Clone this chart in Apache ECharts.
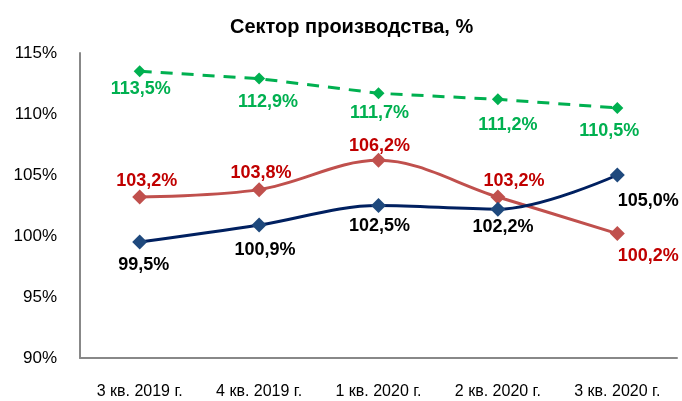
<!DOCTYPE html>
<html>
<head>
<meta charset="utf-8">
<script src="https://cdn.jsdelivr.net/npm/echarts@6/dist/echarts.min.js"></script>
<style>
  html, body { margin: 0; padding: 0; background: #fff; }
  #chart { width: 682px; height: 401px; }
</style>
</head>
<body>
<div id="chart"></div>
<script>
const categories = ["3 кв. 2019 г.", "4 кв. 2019 г.", "1 кв. 2020 г.", "2 кв. 2020 г.", "3 кв. 2020 г."];
const greenValues = [113.5, 112.9, 111.7, 111.2, 110.5];
const redValues = [103.2, 103.8, 106.2, 103.2, 100.2];
const navyValues = [99.5, 100.9, 102.5, 102.2, 105.0];
const yTicks = [90, 95, 100, 105, 110, 115];

// label offsets from the marker
const greenOffsets = [[1, 18], [9, 23], [1, 20], [10, 26], [-8, 23]];
const redOffsets = [[7, -16], [2, -17], [1, -14], [16, -16], [31, 22]];
const navyOffsets = [[4, 23], [6, 25], [1, 21], [5, 18], [31, 26]];

function fmt(v) {
  return v.toFixed(1).replace(".", ",") + "%";
}

function withLabels(values, offsets) {
  return values.map((v, i) => ({ value: v, label: { offset: offsets[i] } }));
}

const labelBase = {
  show: true,
  position: "inside",
  align: "center",
  verticalAlign: "middle",
  fontFamily: "Liberation Sans",
  fontWeight: "bold",
  fontSize: 18,
  formatter: p => fmt(p.value)
};

let myChart = echarts.init(document.getElementById("chart"));
myChart.setOption({
  animation: false,
  title: {
    text: "Сектор производства, %",
    left: 225,
    top: 12,
    textStyle: { fontFamily: "Liberation Sans", fontWeight: "bold", fontSize: 20, color: "#000" }
  },
  grid: { left: 80, right: 5, top: 53, bottom: 43 },
  xAxis: {
    type: "category",
    data: categories,
    boundaryGap: true,
    axisLine: { lineStyle: { color: "#888", width: 2 } },
    axisTick: { show: false },
    axisLabel: { margin: 26, fontFamily: "Liberation Sans", fontSize: 16, color: "#000" }
  },
  yAxis: {
    type: "value",
    min: yTicks[0],
    max: yTicks[yTicks.length - 1],
    interval: 5,
    axisLine: { show: true, lineStyle: { color: "#888", width: 2 } },
    axisTick: { show: false },
    splitLine: { show: false },
    axisLabel: { margin: 23, fontFamily: "Liberation Sans", fontSize: 17, color: "#000", formatter: v => v + "%" }
  },
  series: [
    {
      type: "line",
      data: withLabels(greenValues, greenOffsets),
      symbol: "diamond",
      symbolSize: 12,
      lineStyle: { color: "#00B050", width: 3, type: [12, 9] },
      itemStyle: { color: "#00B050" },
      label: Object.assign({}, labelBase, { color: "#00B050" })
    },
    {
      type: "line",
      data: withLabels(redValues, redOffsets),
      smooth: 0.35,
      symbol: "diamond",
      symbolSize: 15,
      lineStyle: { color: "#C0504D", width: 3 },
      itemStyle: { color: "#C0504D" },
      label: Object.assign({}, labelBase, { color: "#C00000" })
    },
    {
      type: "line",
      data: withLabels(navyValues, navyOffsets),
      smooth: 0.35,
      symbol: "diamond",
      symbolSize: 15,
      lineStyle: { color: "#002060", width: 3 },
      itemStyle: { color: "#1F497D" },
      label: Object.assign({}, labelBase, { color: "#000" })
    }
  ]
});
</script>
</body>
</html>
